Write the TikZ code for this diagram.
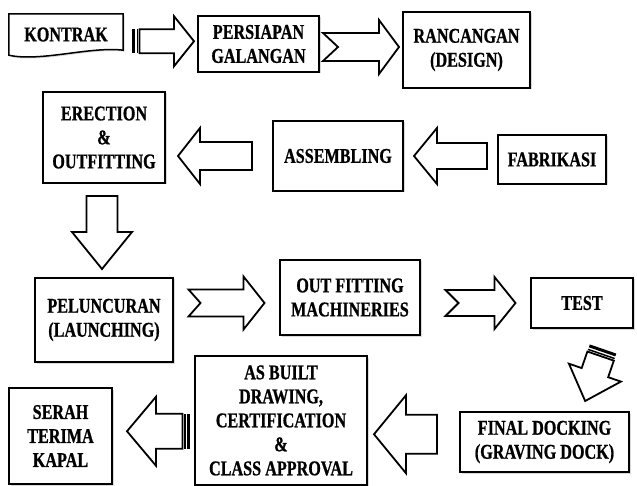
\documentclass[tikz,border=0pt]{standalone}
\usepackage{fontspec}
\setmainfont{Liberation Serif}[FakeStretch=0.77, BoldFont={Liberation Serif Bold}, BoldFeatures={FakeBold=0.8}]
\usetikzlibrary{calc, shadows, backgrounds}

\tikzset{
  stagetext/.style={align=center, inner sep=0pt, font=\fontsize{21}{24}\selectfont\bfseries},
  stage/.style={stagetext, draw, fill=white, line width=2.4pt,
    drop shadow={shadow xshift=1.5pt, shadow yshift=-1.5pt, opacity=.3}},
  arrowline/.style={draw, fill=white, line width=1.8pt, line join=miter},
  pics/blockarrow/.style n args={5}{code={
    \draw[arrowline] ({-#1/2},{#4}) -- ({#1/2-#2},{#4}) -- ({#1/2-#2},{#3}) -- ({#1/2},0)
      -- ({#1/2-#2},{-#3}) -- ({#1/2-#2},{-#4}) -- ({-#1/2},{-#4}) -- ({-#1/2+#5},0) -- cycle;
  }},
  pics/stripedarrow/.style n args={4}{code={
    \fill ({-#1/2},{-#4}) rectangle ({-#1/2+3},{#4});
    \fill ({-#1/2+4.5},{-#4}) rectangle ({-#1/2+6},{#4});
    \draw[arrowline] ({-#1/2+7.5},{#4}) -- ({#1/2-#2},{#4}) -- ({#1/2-#2},{#3}) -- ({#1/2},0)
      -- ({#1/2-#2},{-#3}) -- ({#1/2-#2},{-#4}) -- ({-#1/2+7.5},{-#4}) -- cycle;
  }},
}

\begin{document}
\begin{tikzpicture}[x=1pt, y=-1pt]
\useasboundingbox (0,0) rectangle (637,486);

% first row
\node[stagetext, minimum width=114, minimum height=41, yshift=2pt] (kontrak) at (66,36.5) {KONTRAK};
\begin{scope}[on background layer]
\draw[line width=1.5pt, fill=white, drop shadow={shadow xshift=1.5pt, shadow yshift=-1.5pt, opacity=.3}]
  (kontrak.north west) -- (kontrak.north east) -- ($(kontrak.south east)+(0,-5)$)
  .. controls ($(kontrak.south)+(24,-9)$) and ($(kontrak.south)+(-26,7)$) .. (kontrak.south west) -- cycle;
\end{scope}
\node[stage, minimum width=121, minimum height=56] (persiapan) at (258.5,44) {PERSIAPAN\\GALANGAN};
\node[stage, minimum width=127, minimum height=76] (rancangan) at (466.5,50) {RANCANGAN\\(DESIGN)};

% second row
\node[stage, minimum width=122, minimum height=91] (erection) at (104,137.5) {ERECTION\\\&\\OUTFITTING};
\node[stage, minimum width=130, minimum height=70] (assembling) at (338,156) {ASSEMBLING};
\node[stage, minimum width=108, minimum height=49] (fabrikasi) at (552,159.5) {FABRIKASI};

% third row
\node[stage, minimum width=138, minimum height=84] (peluncuran) at (104,320) {PELUNCURAN\\(LAUNCHING)};
\node[stage, minimum width=140, minimum height=75] (outfitting) at (350,297.5) {OUT FITTING\\MACHINERIES};
\node[stage, minimum width=102, minimum height=50] (test) at (582,303) {TEST};

% last row
\node[stage, minimum width=103, minimum height=96] (serah) at (60.5,436) {SERAH\\TERIMA\\KAPAL};
\node[stage, minimum width=172, minimum height=129] (asbuilt) at (281,420.5) {AS BUILT\\DRAWING,\\CERTIFICATION\\\&\\CLASS APPROVAL};
\node[stage, minimum width=169, minimum height=60] (final) at (544.5,442) {FINAL DOCKING\\(GRAVING DOCK)};

% arrows
\pic at ($(kontrak.east)!.5!(persiapan.west)+(3,2)$) {stripedarrow={62}{20}{25}{12}};
\pic at ($(persiapan.east)!.5!(rancangan.west)$) {blockarrow={76}{20}{27}{14}{15}};
\pic[rotate=180] at ($(fabrikasi.west |- assembling.east)!.5!(assembling.east)$) {blockarrow={73}{23}{28}{13}{0}};
\pic[rotate=180] at ($(erection.east |- assembling.west)!.5!(assembling.west)+(-4,0)$) {blockarrow={74}{22}{28}{14}{0}};
\pic[rotate=-90] at ($(erection.south)!.5!(peluncuran.north)+(-2,2)$) {blockarrow={73}{37}{30}{15.5}{0}};
\pic at ($(peluncuran.east |- test.west)!.5!(outfitting.west |- test.west)$) {blockarrow={76}{21}{26.5}{13.5}{12}};
\pic at ($(outfitting.east |- test.west)!.5!(test.west)+(5,0)$) {blockarrow={70}{21}{26}{13}{13}};
\pic[rotate=-109] at ($(test.south)!.5!(final.north east)+(-12,5)$) {stripedarrow={55}{30}{27.5}{14}};
\pic[rotate=180] at ($(asbuilt.east)!.5!(final.west)+(-8,3)$) {blockarrow={63}{32}{39}{19.5}{0}};
\pic[rotate=180] at ($(serah.east)!.5!(asbuilt.west)+(5,3)$) {stripedarrow={63}{29}{34.5}{17.5}};

\end{tikzpicture}
\end{document}
